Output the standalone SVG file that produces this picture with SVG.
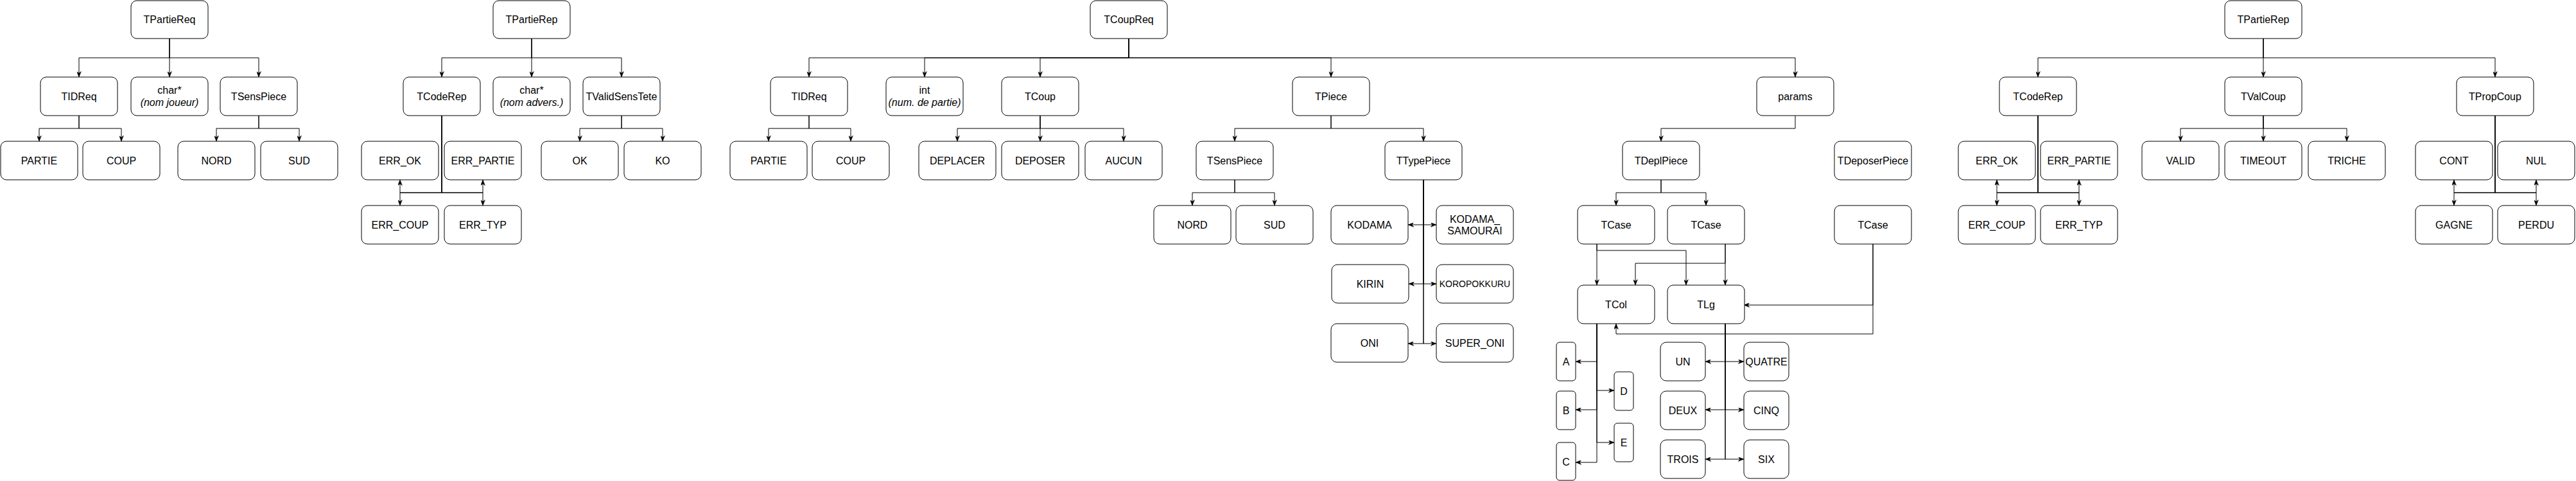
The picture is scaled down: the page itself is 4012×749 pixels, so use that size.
<svg xmlns="http://www.w3.org/2000/svg" width="4012" height="749" viewBox="0 0 4012 749">
<style>
.n rect{fill:#fff;stroke:#000;stroke-width:1}
.n text{font-family:"Liberation Sans",Arial,Helvetica,sans-serif;font-size:16px;fill:#000;text-anchor:middle}
.n text.s{font-size:14px}
.n tspan.i{font-style:italic}
#edges path{fill:none;stroke:#000;stroke-width:1;marker-end:url(#arr)}
</style>
<defs>
<marker id="arr" markerUnits="userSpaceOnUse" viewBox="0 0 10 8" refX="10" refY="4" markerWidth="9" markerHeight="7" orient="auto">
<path d="M0,0 L10,4 L0,8 L3,4 z" fill="#000" stroke="#000" stroke-width="0.5"/>
</marker>
</defs>
<rect width="4012" height="749" fill="#fff"/>

<g id="edges">
<!-- TPartieReq -->
<path d="M264,60 V90 H123 V120"/>
<path d="M264,60 V120"/>
<path d="M264,60 V90 H403 V120"/>
<path d="M123,180 V200 H61 V220"/>
<path d="M123,180 V200 H189 V220"/>
<path d="M403,180 V200 H337 V220"/>
<path d="M403,180 V200 H466 V220"/>
<!-- TPartieRep 1 -->
<path d="M828,60 V90 H688 V120"/>
<path d="M828,60 V120"/>
<path d="M828,60 V90 H968 V120"/>
<path d="M688,180 V300 H623 V280"/>
<path d="M688,180 V300 H623 V320"/>
<path d="M688,180 V300 H752 V280"/>
<path d="M688,180 V300 H752 V320"/>
<path d="M968,180 V200 H903 V220"/>
<path d="M968,180 V200 H1032 V220"/>
<!-- TCoupReq -->
<path d="M1758,60 V90 H1260 V120"/>
<path d="M1758,60 V90 H1440 V120"/>
<path d="M1758,60 V90 H1620 V120"/>
<path d="M1758,60 V90 H2073 V120"/>
<path d="M1758,60 V90 H2796 V120"/>
<path d="M1260,180 V200 H1197 V220"/>
<path d="M1260,180 V200 H1325 V220"/>
<path d="M1620,180 V200 H1491 V220"/>
<path d="M1620,180 V220"/>
<path d="M1620,180 V200 H1750 V220"/>
<path d="M2073,180 V200 H1923 V220"/>
<path d="M2073,180 V200 H2217 V220"/>
<path d="M1923,280 V300 H1857 V320"/>
<path d="M1923,280 V300 H1985 V320"/>
<path d="M2217,280 V350 H2193"/>
<path d="M2217,280 V350 H2237"/>
<path d="M2217,280 V442 H2194"/>
<path d="M2217,280 V442 H2237"/>
<path d="M2217,280 V535 H2193"/>
<path d="M2217,280 V535 H2237"/>
<path d="M2796,180 V200 H2587 V220"/>
<path d="M2587,280 V300 H2517 V320"/>
<path d="M2587,280 V300 H2657 V320"/>
<path d="M2487,380 V444"/>
<path d="M2487,380 V390 H2626 V444"/>
<path d="M2687,380 V444"/>
<path d="M2687,380 V410 H2547 V444"/>
<path d="M2917,380 V475 H2716"/>
<path d="M2917,380 V520 H2517 V504"/>
<path d="M2487,504 V563 H2454"/>
<path d="M2487,504 V608 H2514"/>
<path d="M2487,504 V638 H2454"/>
<path d="M2487,504 V689 H2514"/>
<path d="M2487,504 V720 H2454"/>
<path d="M2687,504 V563 H2656"/>
<path d="M2687,504 V563 H2716"/>
<path d="M2687,504 V638 H2656"/>
<path d="M2687,504 V638 H2716"/>
<path d="M2687,504 V715 H2656"/>
<path d="M2687,504 V715 H2716"/>
<!-- TPartieRep 2 -->
<path d="M3525,60 V90 H3174 V120"/>
<path d="M3525,60 V120"/>
<path d="M3525,60 V90 H3886 V120"/>
<path d="M3174,180 V300 H3110 V280"/>
<path d="M3174,180 V300 H3110 V320"/>
<path d="M3174,180 V300 H3238 V280"/>
<path d="M3174,180 V300 H3238 V320"/>
<path d="M3525,180 V200 H3396 V220"/>
<path d="M3525,180 V220"/>
<path d="M3525,180 V200 H3655 V220"/>
<path d="M3886,180 V300 H3822 V280"/>
<path d="M3886,180 V300 H3822 V320"/>
<path d="M3886,180 V300 H3950 V280"/>
<path d="M3886,180 V300 H3950 V320"/>
</g>

<!-- Tree 1 -->
<g id="tpartiereq" class="n"><rect x="204" y="1" width="120" height="59" rx="9"/><text x="264" y="36">TPartieReq</text></g>
<g id="tidreq1" class="n"><rect x="63" y="120" width="120" height="60" rx="9"/><text x="123" y="156">TIDReq</text></g>
<g id="char1" class="n"><rect x="204" y="120" width="120" height="60" rx="9"/><text x="264" y="146">char*</text><text x="264" y="164.5"><tspan class="i">(nom joueur)</tspan></text></g>
<g id="tsenspiece1" class="n"><rect x="343" y="120" width="120" height="60" rx="9"/><text x="403" y="156">TSensPiece</text></g>
<g id="partie1" class="n"><rect x="1" y="220" width="120" height="60" rx="9"/><text x="61" y="256">PARTIE</text></g>
<g id="coup1" class="n"><rect x="129" y="220" width="120" height="60" rx="9"/><text x="189" y="256">COUP</text></g>
<g id="nord1" class="n"><rect x="277" y="220" width="120" height="60" rx="9"/><text x="337" y="256">NORD</text></g>
<g id="sud1" class="n"><rect x="406" y="220" width="120" height="60" rx="9"/><text x="466" y="256">SUD</text></g>

<!-- Tree 2 -->
<g id="tpartierep1" class="n"><rect x="768" y="1" width="120" height="59" rx="9"/><text x="828" y="36">TPartieRep</text></g>
<g id="tcoderep1" class="n"><rect x="628" y="120" width="120" height="60" rx="9"/><text x="688" y="156">TCodeRep</text></g>
<g id="char2" class="n"><rect x="768" y="120" width="120" height="60" rx="9"/><text x="828" y="146">char*</text><text x="828" y="164.5"><tspan class="i">(nom advers.)</tspan></text></g>
<g id="tvalidsenstete" class="n"><rect x="908" y="120" width="120" height="60" rx="9"/><text x="968" y="156">TValidSensTete</text></g>
<g id="errok1" class="n"><rect x="563" y="220" width="120" height="60" rx="9"/><text x="623" y="256">ERR_OK</text></g>
<g id="errpartie1" class="n"><rect x="692" y="220" width="120" height="60" rx="9"/><text x="752" y="256">ERR_PARTIE</text></g>
<g id="errcoup1" class="n"><rect x="563" y="320" width="120" height="60" rx="9"/><text x="623" y="356">ERR_COUP</text></g>
<g id="errtyp1" class="n"><rect x="692" y="320" width="120" height="60" rx="9"/><text x="752" y="356">ERR_TYP</text></g>
<g id="ok" class="n"><rect x="843" y="220" width="120" height="60" rx="9"/><text x="903" y="256">OK</text></g>
<g id="ko" class="n"><rect x="972" y="220" width="120" height="60" rx="9"/><text x="1032" y="256">KO</text></g>

<!-- Tree 3 -->
<g id="tcoupreq" class="n"><rect x="1698" y="1" width="120" height="59" rx="9"/><text x="1758" y="36">TCoupReq</text></g>
<g id="tidreq2" class="n"><rect x="1200" y="120" width="120" height="60" rx="9"/><text x="1260" y="156">TIDReq</text></g>
<g id="int" class="n"><rect x="1380" y="120" width="120" height="60" rx="9"/><text x="1440" y="146">int</text><text x="1440" y="164.5"><tspan class="i">(num. de partie)</tspan></text></g>
<g id="tcoup" class="n"><rect x="1560" y="120" width="120" height="60" rx="9"/><text x="1620" y="156">TCoup</text></g>
<g id="tpiece" class="n"><rect x="2013" y="120" width="120" height="60" rx="9"/><text x="2073" y="156">TPiece</text></g>
<g id="params" class="n"><rect x="2736" y="120" width="120" height="60" rx="9"/><text x="2796" y="156">params</text></g>
<g id="partie2" class="n"><rect x="1137" y="220" width="120" height="60" rx="9"/><text x="1197" y="256">PARTIE</text></g>
<g id="coup2" class="n"><rect x="1265" y="220" width="120" height="60" rx="9"/><text x="1325" y="256">COUP</text></g>
<g id="deplacer" class="n"><rect x="1431" y="220" width="120" height="60" rx="9"/><text x="1491" y="256">DEPLACER</text></g>
<g id="deposer" class="n"><rect x="1560" y="220" width="120" height="60" rx="9"/><text x="1620" y="256">DEPOSER</text></g>
<g id="aucun" class="n"><rect x="1690" y="220" width="120" height="60" rx="9"/><text x="1750" y="256">AUCUN</text></g>
<g id="tsenspiece2" class="n"><rect x="1863" y="220" width="120" height="60" rx="9"/><text x="1923" y="256">TSensPiece</text></g>
<g id="ttypepiece" class="n"><rect x="2157" y="220" width="120" height="60" rx="9"/><text x="2217" y="256">TTypePiece</text></g>
<g id="nord2" class="n"><rect x="1797" y="320" width="120" height="60" rx="9"/><text x="1857" y="356">NORD</text></g>
<g id="sud2" class="n"><rect x="1925" y="320" width="120" height="60" rx="9"/><text x="1985" y="356">SUD</text></g>
<g id="kodama" class="n"><rect x="2073" y="320" width="120" height="60" rx="9"/><text x="2133" y="356">KODAMA</text></g>
<g id="kodamasamourai" class="n"><rect x="2237" y="320" width="120" height="60" rx="9"/><text x="2297" y="346.5">KODAMA_</text><text x="2297" y="365">SAMOURAI</text></g>
<g id="kirin" class="n"><rect x="2074" y="412" width="120" height="60" rx="9"/><text x="2134" y="448">KIRIN</text></g>
<g id="koropokkuru" class="n"><rect x="2237" y="412" width="120" height="60" rx="9"/><text class="s" x="2297" y="447">KOROPOKKURU</text></g>
<g id="oni" class="n"><rect x="2073" y="504" width="120" height="60" rx="9"/><text x="2133" y="540">ONI</text></g>
<g id="superoni" class="n"><rect x="2237" y="504" width="120" height="60" rx="9"/><text x="2297" y="540">SUPER_ONI</text></g>
<g id="tdeplpiece" class="n"><rect x="2527" y="220" width="120" height="60" rx="9"/><text x="2587" y="256">TDeplPiece</text></g>
<g id="tdeposerpiece" class="n"><rect x="2857" y="220" width="120" height="60" rx="9"/><text x="2917" y="256">TDeposerPiece</text></g>
<g id="tcase1" class="n"><rect x="2457" y="320" width="120" height="60" rx="9"/><text x="2517" y="356">TCase</text></g>
<g id="tcase2" class="n"><rect x="2597" y="320" width="120" height="60" rx="9"/><text x="2657" y="356">TCase</text></g>
<g id="tcase3" class="n"><rect x="2857" y="320" width="120" height="60" rx="9"/><text x="2917" y="356">TCase</text></g>
<g id="tcol" class="n"><rect x="2457" y="444" width="120" height="60" rx="9"/><text x="2517" y="480">TCol</text></g>
<g id="tlg" class="n"><rect x="2597" y="444" width="120" height="60" rx="9"/><text x="2657" y="480">TLg</text></g>
<g id="a" class="n"><rect x="2424" y="533" width="30" height="60" rx="5"/><text x="2439" y="569">A</text></g>
<g id="b" class="n"><rect x="2424" y="609" width="30" height="60" rx="5"/><text x="2439" y="645">B</text></g>
<g id="c" class="n"><rect x="2424" y="689" width="30" height="59" rx="5"/><text x="2439" y="725">C</text></g>
<g id="d" class="n"><rect x="2514" y="579" width="30" height="60" rx="5"/><text x="2529" y="615">D</text></g>
<g id="e" class="n"><rect x="2514" y="659" width="30" height="60" rx="5"/><text x="2529" y="695">E</text></g>
<g id="un" class="n"><rect x="2586" y="533" width="70" height="60" rx="9"/><text x="2621" y="569">UN</text></g>
<g id="deux" class="n"><rect x="2586" y="609" width="70" height="60" rx="9"/><text x="2621" y="645">DEUX</text></g>
<g id="trois" class="n"><rect x="2586" y="685" width="70" height="60" rx="9"/><text x="2621" y="721">TROIS</text></g>
<g id="quatre" class="n"><rect x="2716" y="533" width="70" height="60" rx="9"/><text x="2751" y="569">QUATRE</text></g>
<g id="cinq" class="n"><rect x="2716" y="609" width="70" height="60" rx="9"/><text x="2751" y="645">CINQ</text></g>
<g id="six" class="n"><rect x="2716" y="685" width="70" height="60" rx="9"/><text x="2751" y="721">SIX</text></g>

<!-- Tree 4 -->
<g id="tpartierep2" class="n"><rect x="3465" y="1" width="120" height="59" rx="9"/><text x="3525" y="36">TPartieRep</text></g>
<g id="tcoderep2" class="n"><rect x="3114" y="120" width="120" height="60" rx="9"/><text x="3174" y="156">TCodeRep</text></g>
<g id="tvalcoup" class="n"><rect x="3465" y="120" width="120" height="60" rx="9"/><text x="3525" y="156">TValCoup</text></g>
<g id="tpropcoup" class="n"><rect x="3826" y="120" width="120" height="60" rx="9"/><text x="3886" y="156">TPropCoup</text></g>
<g id="errok2" class="n"><rect x="3050" y="220" width="120" height="60" rx="9"/><text x="3110" y="256">ERR_OK</text></g>
<g id="errpartie2" class="n"><rect x="3178" y="220" width="120" height="60" rx="9"/><text x="3238" y="256">ERR_PARTIE</text></g>
<g id="errcoup2" class="n"><rect x="3050" y="320" width="120" height="60" rx="9"/><text x="3110" y="356">ERR_COUP</text></g>
<g id="errtyp2" class="n"><rect x="3178" y="320" width="120" height="60" rx="9"/><text x="3238" y="356">ERR_TYP</text></g>
<g id="valid" class="n"><rect x="3336" y="220" width="120" height="60" rx="9"/><text x="3396" y="256">VALID</text></g>
<g id="timeout" class="n"><rect x="3465" y="220" width="120" height="60" rx="9"/><text x="3525" y="256">TIMEOUT</text></g>
<g id="triche" class="n"><rect x="3595" y="220" width="120" height="60" rx="9"/><text x="3655" y="256">TRICHE</text></g>
<g id="cont" class="n"><rect x="3762" y="220" width="120" height="60" rx="9"/><text x="3822" y="256">CONT</text></g>
<g id="nul" class="n"><rect x="3890" y="220" width="120" height="60" rx="9"/><text x="3950" y="256">NUL</text></g>
<g id="gagne" class="n"><rect x="3762" y="320" width="120" height="60" rx="9"/><text x="3822" y="356">GAGNE</text></g>
<g id="perdu" class="n"><rect x="3890" y="320" width="120" height="60" rx="9"/><text x="3950" y="356">PERDU</text></g>
</svg>
